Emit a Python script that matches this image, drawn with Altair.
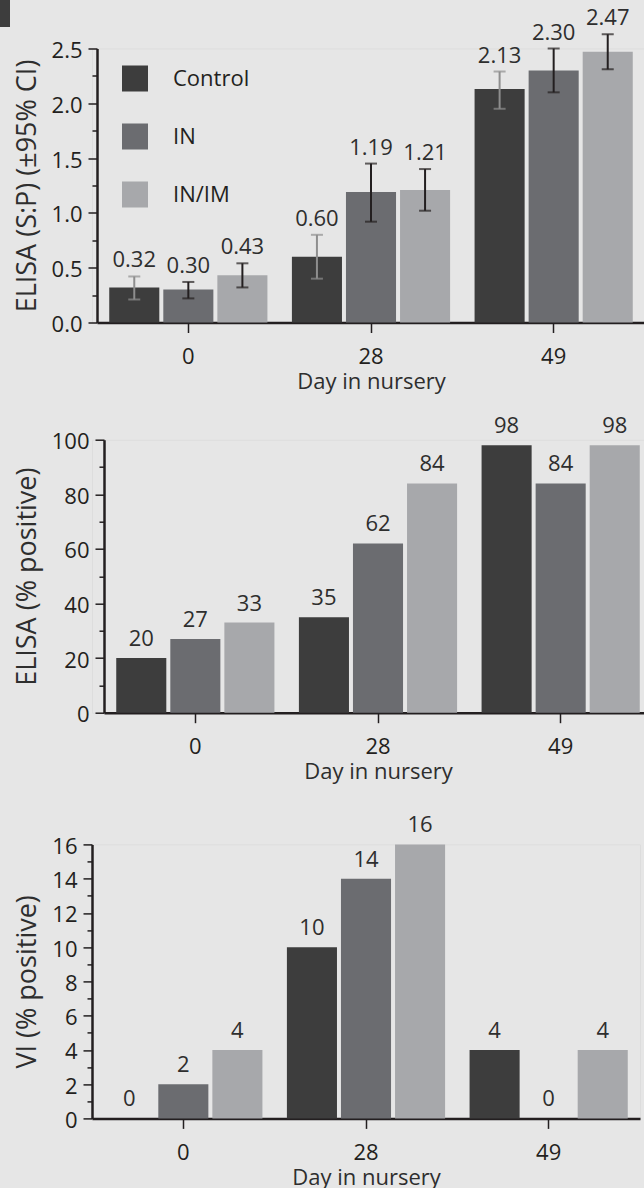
import altair as alt
import pandas as pd

# ---------------- data ----------------
days = ["0", "28", "49"]
groups = ["Control", "IN", "IN/IM"]
colors = ["#3d3d3d", "#6b6c70", "#a7a8ab"]

# order: day 0 (Control, IN, IN/IM), day 28 (...), day 49 (...)
elisa_sp = [0.32, 0.30, 0.43, 0.60, 1.19, 1.21, 2.13, 2.30, 2.47]
elisa_lo = [0.21, 0.22, 0.32, 0.40, 0.92, 1.02, 1.95, 2.10, 2.31]
elisa_hi = [0.42, 0.37, 0.54, 0.80, 1.45, 1.40, 2.29, 2.50, 2.63]
elisa_pos = [20, 27, 33, 35, 62, 84, 98, 84, 98]
vi_pos = [0, 2, 4, 10, 14, 16, 4, 0, 4]

FONT = "Open Sans"
DARK = "#231f20"
TXT = "#2e2e2e"
BG = "#e6e6e6"
PLOT_W = 548


def frame(values, lo=None, hi=None):
    rows = []
    for i, v in enumerate(values):
        d = days[i // 3]
        g = groups[i % 3]
        row = {"day": d, "group": g, "value": v}
        if lo is not None:
            row["lo"] = lo[i]
            row["hi"] = hi[i]
            row["top"] = hi[i]
        else:
            row["top"] = v
        rows.append(row)
    return pd.DataFrame(rows)


def panel(df, ytitle, domain, major, minor, fmt, lblfmt, height, with_err, dy, shift):
    yscale = alt.Scale(domain=domain, nice=False, zero=True)
    xscale = alt.Scale(
        range=[shift, shift + PLOT_W], paddingInner=0.134, paddingOuter=0.067
    )
    xenc = alt.X(
        "day:N",
        sort=days,
        scale=xscale,
        axis=alt.Axis(
            title="Day in nursery",
            labelAngle=0,
            tickSize=10,
            tickWidth=1.5,
            tickColor=DARK,
            domainColor=DARK,
            domainWidth=2.5,
            labelPadding=14,
            labelFont=FONT,
            labelFontSize=22,
            labelColor=DARK,
            titleFont=FONT,
            titleFontSize=22,
            titleFontWeight="normal",
            titleColor=TXT,
            titlePadding=4,
        ),
    )
    xplain = alt.X("day:N", sort=days, scale=xscale)
    xoff = alt.XOffset(
        "group:N", sort=groups, scale=alt.Scale(paddingInner=0.074, paddingOuter=0)
    )
    bars = alt.Chart(df).mark_bar().encode(
        x=xenc,
        xOffset=xoff,
        y=alt.Y(
            "value:Q",
            scale=yscale,
            axis=alt.Axis(
                title=ytitle,
                values=major,
                format=fmt,
                orient="left",
                offset=-shift,
                tickSize=9,
                tickWidth=1.5,
                tickColor=DARK,
                domainColor=DARK,
                domainWidth=2.5,
                labelPadding=6,
                labelOffset=2,
                labelFont=FONT,
                labelFontSize=22,
                labelColor=DARK,
                titleFont=FONT,
                titleFontSize=27,
                titleFontWeight="normal",
                titleColor=TXT,
                titlePadding=10,
                grid=False,
            ),
        ),
        color=alt.Color(
            "group:N",
            sort=groups,
            scale=alt.Scale(domain=groups, range=colors),
            legend=alt.Legend(
                title=None,
                orient="none",
                legendX=25 + shift,
                legendY=17,
                padding=0,
                symbolType="square",
                symbolSize=676,
                symbolStrokeWidth=0,
                symbolOpacity=1,
                labelFont=FONT,
                labelFontSize=22,
                labelColor=DARK,
                labelOffset=25,
                rowPadding=32,
            ),
        ),
    )
    text = alt.Chart(df).mark_text(
        dy=dy, fontSize=22, font=FONT, color=TXT, baseline="alphabetic"
    ).encode(
        x=xplain,
        xOffset=xoff,
        y=alt.Y(
            "top:Q",
            scale=yscale,
            axis=alt.Axis(
                title=None,
                values=minor,
                labels=False,
                domain=False,
                orient="left",
                offset=-shift,
                tickSize=5,
                tickWidth=1.5,
                tickColor=DARK,
                grid=False,
            ),
        ),
        text=alt.Text("value:Q", format=lblfmt),
    )
    layers = [bars]
    if with_err:
        ecol = alt.condition(
            "datum.group == 'Control'", alt.value("#8e8e8e"), alt.value(DARK)
        )
        rule = alt.Chart(df).mark_rule(strokeWidth=2).encode(
            x=xplain,
            xOffset=xoff,
            y=alt.Y("lo:Q", scale=yscale, axis=None),
            y2="hi:Q",
            color=ecol,
        )
        cap_lo = alt.Chart(df).mark_tick(thickness=2, size=12).encode(
            x=xplain,
            xOffset=xoff,
            y=alt.Y("lo:Q", scale=yscale, axis=None),
            color=ecol,
        )
        cap_hi = alt.Chart(df).mark_tick(thickness=2, size=12).encode(
            x=xplain,
            xOffset=xoff,
            y=alt.Y("hi:Q", scale=yscale, axis=None),
            color=ecol,
        )
        layers += [rule, cap_lo, cap_hi]
    layers.append(text)
    return (
        alt.layer(*layers)
        .resolve_axis(y="independent")
        .properties(width=PLOT_W + shift, height=height)
    )


p1 = panel(
    frame(elisa_sp, elisa_lo, elisa_hi),
    "ELISA (S:P) (±95% CI)",
    [0, 2.5],
    [0, 0.5, 1.0, 1.5, 2.0, 2.5],
    [0.25, 0.75, 1.25, 1.75, 2.25],
    ".1f",
    ".2f",
    274,
    True,
    -9,
    5,
)
p2 = panel(
    frame(elisa_pos),
    "ELISA (% positive)",
    [0, 100],
    [0, 20, 40, 60, 80, 100],
    [10, 30, 50, 70, 90],
    "d",
    "d",
    273,
    False,
    -12,
    12,
)
p3 = panel(
    frame(vi_pos),
    "VI (% positive)",
    [0, 16],
    [0, 2, 4, 6, 8, 10, 12, 14, 16],
    [1, 3, 5, 7, 9, 11, 13, 15],
    "d",
    "d",
    274,
    False,
    -12,
    0,
)

chart = (
    alt.vconcat(alt.vconcat(p1, p2, spacing=20.2), p3, spacing=29.9)
    .properties(
        background=BG,
        padding={"left": 12, "top": 6.5, "right": 0, "bottom": 0},
    )
    .configure_view(stroke=None)
    .configure(font=FONT)
)

css = (
    "body{margin:0;background:#e6e6e6;overflow:hidden}"
    "#vis{display:block!important;overflow:visible}"
    "#vis svg{flex-shrink:0!important;max-width:none!important;max-height:none!important}"
    "body::before{content:'';position:absolute;left:0;top:0;width:10px;height:27px;background:#3d3d3d}"
)
chart.save(
    "out.html",
    embed_options={"renderer": "svg", "actions": False, "defaultStyle": css},
)
